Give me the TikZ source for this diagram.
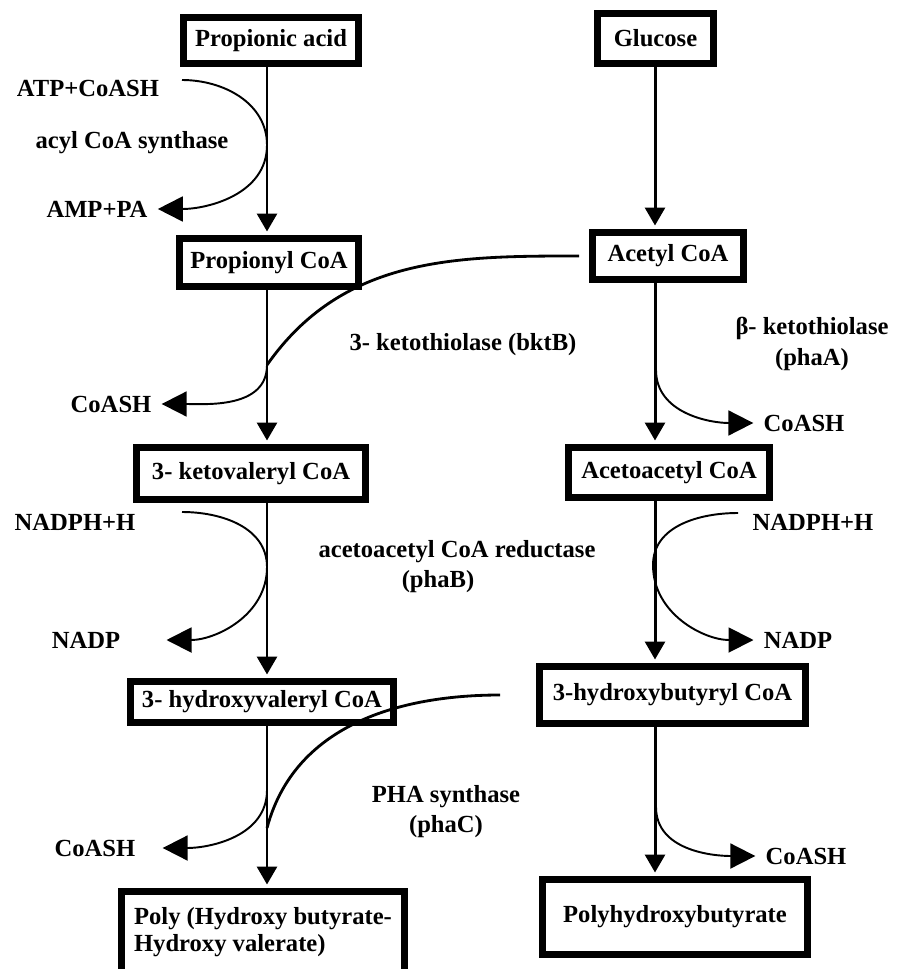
\documentclass[tikz,border=0pt]{standalone}
\usepackage{fontspec}
\setmainfont{Liberation Serif}
\usetikzlibrary{arrows.meta,calc}

\begin{document}
\begin{tikzpicture}[
  x=0.02cm, y=-0.02cm,
  font=\fontsize{14}{17}\selectfont\bfseries,
  box/.style={draw, line width=0.14cm, inner sep=0pt, align=center},
  lbl/.style={inner sep=0.2cm, align=center},
  flow/.style={-{Triangle[length=0.36cm,width=0.4cm]}, line width=1.7pt, shorten >=0.07cm},
  feed/.style={line width=1.6pt},
  side/.style={-{Triangle[length=0.5cm,width=0.5cm]}, line width=1.1pt}
]
\useasboundingbox (0,0) rectangle (896,969);
\coordinate (colL) at (267,0);
\coordinate (colR) at (655,0);

% compounds, propionate branch
\node[box, minimum width=3.5cm, minimum height=0.92cm] (prop) at (271,40.5) {Propionic acid};
\node[box, minimum width=3.58cm, minimum height=0.96cm] (propcoa) at (269,262.5) {Propionyl CoA};
\node[box, minimum width=4.58cm, minimum height=1.04cm] (ketoval) at (251,473.5) {3- ketovaleryl CoA};
\node[box, minimum width=5.26cm, minimum height=0.82cm] (hval) at (262,702) {3- hydroxyvaleryl CoA};
\node[box, minimum width=5.66cm, minimum height=1.62cm, align=left] (poly) at (263,932) {Poly (Hydroxy butyrate-\\[-2pt]Hydroxy valerate)};

% compounds, glucose branch
\node[box, minimum width=2.32cm, minimum height=1.0cm] (gluc) at (655.5,38.5) {Glucose};
\node[box, minimum width=3.02cm, minimum height=0.94cm] (acecoa) at (668,256) {Acetyl CoA};
\node[box, minimum width=4.02cm, minimum height=1.0cm] (acac) at (669,472.5) {Acetoacetyl CoA};
\node[box, minimum width=5.32cm, minimum height=1.14cm] (hbut) at (672.5,695) {3-hydroxybutyryl CoA};
\node[box, minimum width=5.3cm, minimum height=1.5cm] (phb) at (675,917) {Polyhydroxybutyrate};

% main steps
\draw[flow] (prop.south-|colL) -- (propcoa.north-|colL);
\draw[flow] (propcoa.south-|colL) -- (ketoval.north-|colL);
\draw[flow] (ketoval.south-|colL) -- (hval.north-|colL);
\draw[flow] (hval.south-|colL) -- (poly.north-|colL);
\draw[flow] (gluc.south-|colR) -- (acecoa.north-|colR);
\draw[flow] (acecoa.south-|colR) -- (acac.north-|colR);
\draw[flow] (acac.south-|colR) -- (hbut.north-|colR);
\draw[flow] (hbut.south-|colR) -- (phb.north-|colR);

% co-substrates and enzymes
\node[lbl] (atp) at (88,88) {ATP+CoASH};
\node[lbl] (acyl) at (132,143) {acyl CoA synthase};
\node[lbl] (amp) at (97,209) {AMP+PA};
\node[lbl] (bktb) at (463,345) {3- ketothiolase (bktB)};
\node[lbl] (coash1) at (111,404) {CoASH};
\node[lbl] (phaa) at (812,344) {β- ketothiolase\\[1pt](phaA)};
\node[lbl] (coash2) at (804,423) {CoASH};
\node[lbl] (nadph1) at (75,522) {NADPH+H};
\node[lbl] (nadp1) at (86,640) {NADP};
\node[lbl] (phab) at (457,567) {acetoacetyl CoA reductase\\(phaB)\hspace*{0.76cm}};
\node[lbl] (nadph2) at (813,522) {NADPH+H};
\node[lbl] (nadp2) at (798,640) {NADP};
\node[lbl] (phac) at (446,812) {PHA synthase\\(phaC)};
\node[lbl] (coash3) at (95,848) {CoASH};
\node[lbl] (coash4) at (806,856) {CoASH};

% side reactions, left
\coordinate (s1) at (182,80);
\coordinate (t1) at (267,145);
\draw[side] (s1) to[out=0,in=90] (t1) to[out=-90,in=0] (amp.east);
\coordinate (t2) at (267,365);
\draw[feed, shorten <=0.2cm] (acecoa.west) to[out=180,in=55] (t2);
\draw[side] (t2) to[out=-90,in=0] (coash1.east);
\coordinate (s3) at (182,512);
\coordinate (t3) at (267,567);
\draw[side] (s3) to[out=0,in=90] (t3) to[out=-90,in=0] ($(nadp1.east)+(36,0)$);
\coordinate (t6) at (267,790);
\draw[side] (t6) to[out=-90,in=0] ($(coash3.east)+(17,0)$);
\coordinate (t7) at (267,828);
\draw[feed, shorten <=0.72cm] (hbut.west) to[out=180,in=75] (t7);

% side reactions, right
\coordinate (t4) at (656,370);
\draw[side] (t4) to[out=-90,in=180] (coash2.west);
\coordinate (s5) at (738,513);
\coordinate (t5) at (653,565);
\draw[side] (s5) to[out=180,in=90] (t5) to[out=-90,in=180] (nadp2.west);
\coordinate (t8) at (656,807);
\draw[side] (t8) to[out=-90,in=180] (coash4.west);

\end{tikzpicture}
\end{document}
